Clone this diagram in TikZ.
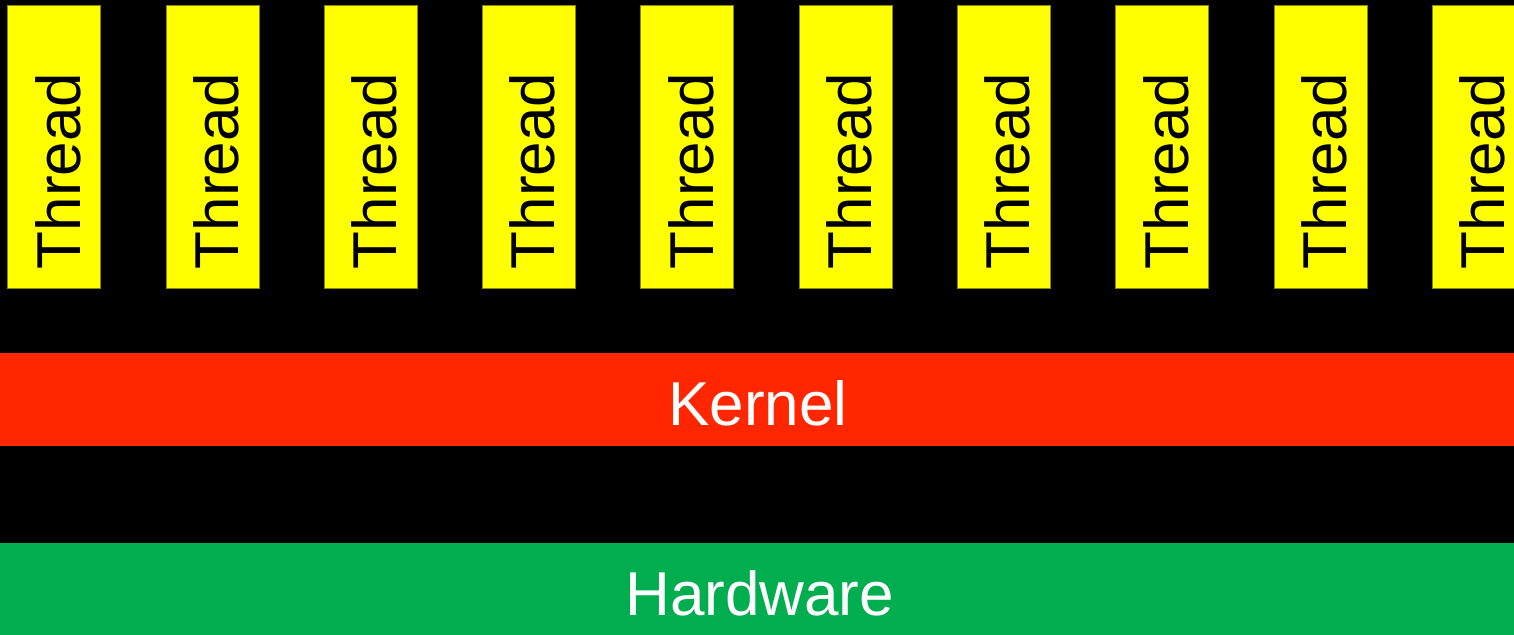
\documentclass[tikz,border=0pt]{standalone}
\usepackage{fontspec}
\setmainfont{Liberation Sans}
\definecolor{thryellow}{HTML}{FFFF00}
\definecolor{thredge}{HTML}{8A8A00}
\definecolor{kernred}{HTML}{FF2600}
\definecolor{hwgreen}{HTML}{00AE4F}
\tikzset{
  bigtext/.style={font=\fontsize{62}{74}\selectfont, inner sep=0pt, outer sep=0pt},
  threadbox/.style={fill=thryellow, draw=thredge, line width=0.6pt, minimum width=93pt, minimum height=283pt, inner sep=0pt, outer sep=0pt},
  layerbox/.style={minimum width=1530pt, inner sep=0pt, outer sep=0pt},
}
\begin{document}
\begin{tikzpicture}[x=1pt,y=-1pt]
\fill[black] (0,0) rectangle (1514,634);
\useasboundingbox (0,0) rectangle (1514,634);
\clip (0,0) rectangle (1514,634);
\foreach \i in {0,...,9} {
  \pgfmathsetmacro{\xl}{7.5+158.3*\i}
  \node[threadbox] (box\i) at (\xl+46.5,146.8) {};
  \node[bigtext, text=black, rotate=90, anchor=base west] (lab\i) at (\xl+72.5,269) {Thread};
}
\node[layerbox, fill=kernred, minimum height=93pt] (kernel) at (757,399.8) {};
\node[bigtext, text=white, anchor=base] (kernlab) at (758,425) {Kernel};
\node[layerbox, fill=hwgreen, minimum height=100pt] (hw) at (757,593.3) {};
\node[bigtext, text=white, anchor=base] (hwlab) at (759.7,615) {Hardware};
\end{tikzpicture}
\end{document}
